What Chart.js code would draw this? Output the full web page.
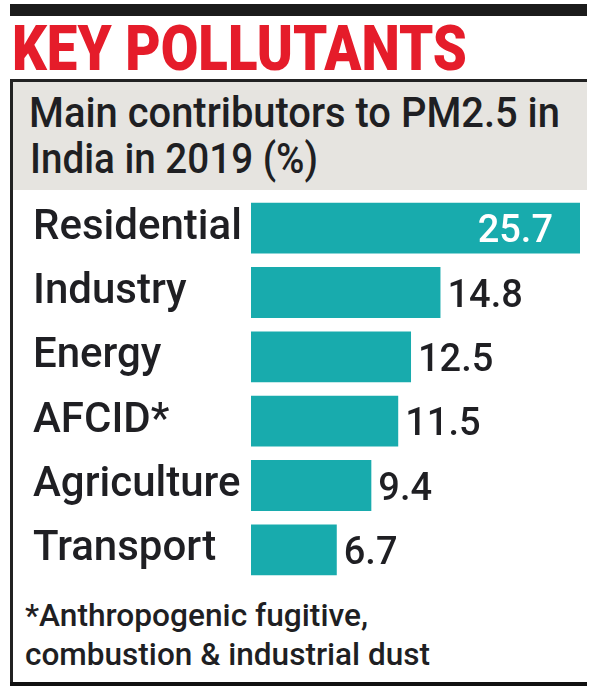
<!DOCTYPE html>
<html>
<head>
<meta charset="utf-8">
<script src="https://cdn.jsdelivr.net/npm/chart.js@4.4.1/dist/chart.umd.min.js"></script>
<style>
    html, body { margin: 0; padding: 0; background: #fff; }
    #page { position: relative; width: 600px; height: 700px; overflow: hidden; font-family: Roboto, "DejaVu Sans", sans-serif; color: #1f1f23; }
    .box { position: absolute; }
    .txt { position: absolute; white-space: nowrap; line-height: 1; transform-origin: 0 0; }
    #chart-wrap { position: absolute; left: 0; top: 190px; width: 600px; height: 400px; }
</style>
</head>
<body>
<div id="page">
    <div class="box" style="left:10px; top:4px; width:577px; height:12px; background:#1b1b1b;"></div>
    <div class="txt" data-w="455" style="left:12px; top:17px; font-size:63px; font-weight:900; color:#e51c2a;">KEY POLLUTANTS</div>

    <div class="box" style="left:13px; top:82px; width:574px; height:108px; background:#e6e4e0;"></div>
    <div class="box" style="left:10px; top:79px; width:577px; height:3px; background:#222;"></div>
    <div class="box" style="left:10px; top:79px; width:3px; height:607px; background:#222;"></div>
    <div class="box" style="left:10px; top:682px; width:577px; height:4px; background:#111;"></div>

    <div class="txt" data-w="531" style="left:29px; top:92px; font-size:42px; font-weight:500;">Main contributors to PM2.5 in</div>
    <div class="txt" data-w="288" style="left:30px; top:138px; font-size:42px; font-weight:500;">India in 2019 (%)</div>

    <div id="chart-wrap"><canvas id="bar-chart"></canvas></div>

    <div class="txt" data-w="343" style="left:25px; top:599px; font-size:32px; font-weight:500;">*Anthropogenic fugitive,</div>
    <div class="txt" data-w="405" style="left:25px; top:638px; font-size:32px; font-weight:500;">combustion &amp; industrial dust</div>
</div>

<script>
'use strict';

const categories = ['Residential', 'Industry', 'Energy', 'AFCID*', 'Agriculture', 'Transport'];
const shares = [25.7, 14.8, 12.5, 11.5, 9.4, 6.7];

const BAR_COLOR = '#18abad';
const TEXT_COLOR = '#1f1f23';

function fitText() {
    document.querySelectorAll('.txt[data-w]').forEach(function (el) {
        let natural = el.getBoundingClientRect().width;
        let target = parseFloat(el.dataset.w);
        el.style.transform = 'scaleX(' + (target / natural) + ')';
    });
}

// value at the end of each bar, inside when it would not fit outside
const valueLabels = {
    id: 'valueLabels',
    afterDatasetsDraw(chart) {
        const ctx = chart.ctx;
        const meta = chart.getDatasetMeta(0);
        const area = chart.chartArea;
        ctx.save();
        ctx.font = '500 38px Roboto, "DejaVu Sans", sans-serif';
        ctx.textBaseline = 'alphabetic';
        meta.data.forEach(function (bar, i) {
            const text = String(chart.data.datasets[0].data[i]);
            const w = ctx.measureText(text).width;
            const y = bar.y + 14;
            if (bar.x + 7 + w > area.right) {
                ctx.fillStyle = '#ffffff';
                ctx.textAlign = 'right';
                ctx.fillText(text, bar.x - 27, y);
            } else {
                ctx.fillStyle = TEXT_COLOR;
                ctx.textAlign = 'left';
                ctx.fillText(text, bar.x + 7, y);
            }
        });
        ctx.restore();
    }
};

window.addEventListener('load', function () {
    fitText();

    let ctx = document.getElementById('bar-chart').getContext('2d');

    new Chart(ctx, {
        type: 'bar',
        data: {
            labels: categories,
            datasets: [{
                data: shares,
                backgroundColor: BAR_COLOR,
                borderWidth: 0,
                barPercentage: 0.79,
                categoryPercentage: 1
            }]
        },
        options: {
            indexAxis: 'y',
            responsive: true,
            maintainAspectRatio: false,
            animation: false,
            layout: {
                padding: { left: 33, right: 20, top: 6, bottom: 8 }
            },
            plugins: {
                legend: { display: false },
                tooltip: { enabled: false }
            },
            scales: {
                x: {
                    display: false,
                    min: 0,
                    max: 25.7
                },
                y: {
                    grid: { display: false },
                    border: { display: false },
                    ticks: {
                        color: TEXT_COLOR,
                        crossAlign: 'far',
                        padding: 0,
                        font: { family: 'Roboto, "DejaVu Sans", sans-serif', size: 42, weight: 500 }
                    },
                    afterFit: function (scale) {
                        // labels run from x=33, bars start at x=251
                        scale.width = 218;
                        // big tick font would otherwise push the plot area in
                        scale.paddingTop = 0;
                        scale.paddingBottom = 0;
                    }
                }
            }
        },
        plugins: [valueLabels]
    });
});
</script>
</body>
</html>
